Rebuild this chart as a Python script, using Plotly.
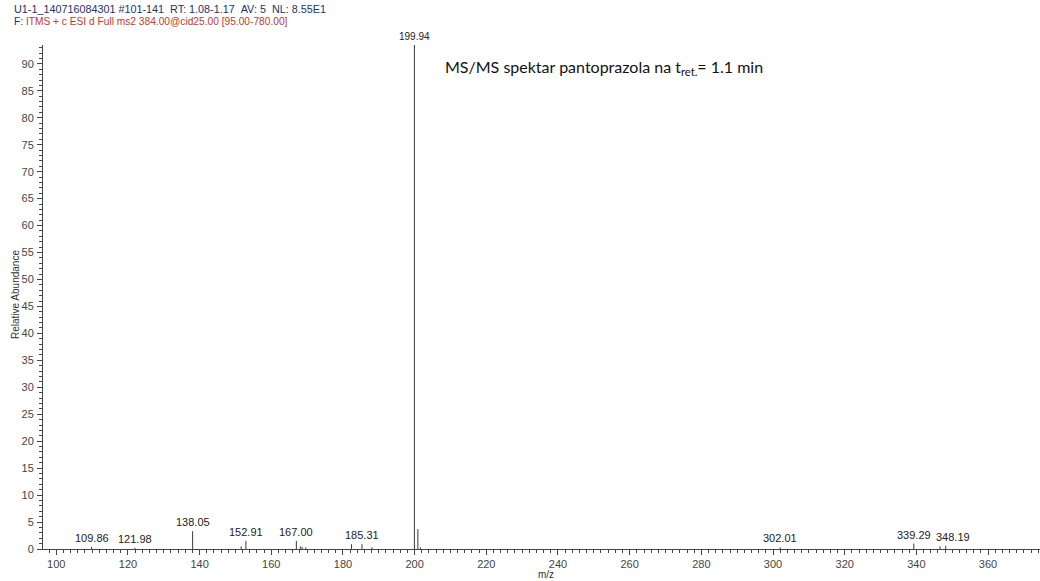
import plotly.graph_objects as go

# MS/MS product-ion spectrum (precursor m/z 384.00, CID 25)
mz = [109.86, 121.98, 138.05, 151.60, 152.91, 167.00, 168.10, 168.60, 169.60,
      182.40, 185.31, 188.10, 199.94, 200.90, 201.60, 302.01, 339.29, 346.60, 348.19]
abundance = [0.4, 0.2, 3.3, 0.5, 1.5, 1.5, 0.5, 0.4, 0.3,
             0.9, 0.9, 0.3, 100.0, 3.7, 0.3, 0.3, 1.0, 0.5, 0.6]
labelled = [109.86, 121.98, 138.05, 152.91, 167.00, 185.31, 199.94, 302.01, 339.29, 348.19]

x_range = [96.3, 374.5]
y_range = [0, 93.5]

# stick spectrum: one vertical segment per ion
sx, sy = [], []
for m, a in zip(mz, abundance):
    sx += [m, m, None]
    sy += [0, a, None]

fig = go.Figure()
fig.add_trace(go.Scatter(x=sx, y=sy, mode="lines",
                         line=dict(color="#3a3a3a", width=1),
                         hoverinfo="skip", showlegend=False))

label_font = dict(family="Liberation Sans, Arial", size=11, color="#222222")
for m, a in zip(mz, abundance):
    if m not in labelled:
        continue
    if a >= y_range[1]:
        fig.add_annotation(x=m, xref="x", y=1, yref="paper", text=f"{m:.2f}",
                           showarrow=False, yanchor="bottom", yshift=1,
                           font=dict(family="Liberation Sans, Arial", size=10, color="#222222"))
    else:
        # the last label is nudged right so it clears its neighbour
        shift = 7 if m == 348.19 else 0
        fig.add_annotation(x=m, y=a, text=f"{m:.2f}", showarrow=False,
                           yanchor="bottom", yshift=1, xshift=shift, font=label_font)

# header lines
fig.add_annotation(xref="paper", yref="paper", x=-0.0311, y=1.0714, xanchor="left",
                   yanchor="middle", showarrow=False, align="left",
                   text="U1-1_140716084301 #101-141&nbsp;&nbsp;RT: 1.08-1.17&nbsp;&nbsp;AV: 5&nbsp;&nbsp;NL: 8.55E1",
                   font=dict(family="Liberation Sans, Arial", size=10.8, color="#26306e"))
fig.add_annotation(xref="paper", yref="paper", x=-0.0311, y=1.0476, xanchor="left",
                   yanchor="middle", showarrow=False, align="left",
                   text="<span style='color:#26306e'>F:</span> ITMS + c ESI d Full ms2 384.00@cid25.00 [95.00-780.00]",
                   font=dict(family="Liberation Sans, Arial", size=10.2, color="#c0392b"))

# spectrum caption
fig.add_annotation(xref="paper", yref="paper", x=(443 - 43) / 997, y=(549 - 68) / 504,
                   xanchor="left", yanchor="middle", showarrow=False,
                   text="MS/MS spektar pantoprazola na t<sub>ret.</sub>= 1.1 min",
                   font=dict(family="Lato", size=16, color="#111111"))

# axis titles
fig.add_annotation(xref="paper", yref="paper", x=(15 - 43) / 997, y=(549 - 295) / 504,
                   textangle=-90, showarrow=False, xanchor="center", yanchor="middle",
                   text="Relative Abundance",
                   font=dict(family="Liberation Sans, Arial", size=10, color="#333333"))
fig.add_annotation(xref="paper", yref="paper", x=(546 - 43) / 997, y=(549 - 582) / 504,
                   showarrow=False, xanchor="center", yanchor="bottom", text="m/z",
                   font=dict(family="Liberation Sans, Arial", size=10, color="#333333"))

tick_font = dict(family="Liberation Sans, Arial", size=11, color="#444444")
fig.update_xaxes(range=x_range, tick0=100, dtick=20, ticks="outside", ticklen=5,
                 tickcolor="#444444", tickfont=tick_font,
                 showline=True, linecolor="#444444", linewidth=1,
                 showgrid=False, zeroline=False,
                 minor=dict(tick0=100, dtick=2, ticks="outside", ticklen=3,
                            tickcolor="#444444", showgrid=False))
fig.update_yaxes(range=y_range, tick0=0, dtick=5, ticks="outside", ticklen=5,
                 tickcolor="#444444", tickfont=tick_font, ticklabelstandoff=1,
                 showline=True, linecolor="#444444", linewidth=1,
                 showgrid=False, zeroline=False,
                 minor=dict(tick0=0, dtick=1, ticks="outside", ticklen=3,
                            tickcolor="#444444", showgrid=False))

fig.update_layout(width=1040, height=581,
                  margin=dict(l=43, r=0, t=45, b=32),
                  plot_bgcolor="white", paper_bgcolor="white",
                  showlegend=False)

fig.write_html("out.html")
